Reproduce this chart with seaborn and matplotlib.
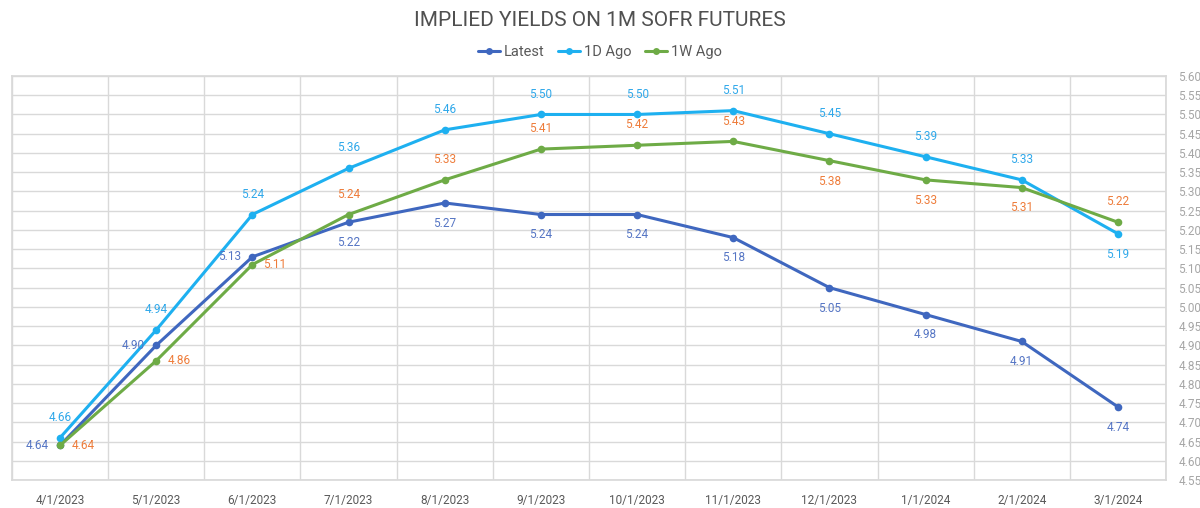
import matplotlib
matplotlib.use('Agg')
import matplotlib.pyplot as plt
from matplotlib.lines import Line2D
import seaborn as sns
import pandas as pd
import numpy as np

dates = ['4/1/2023', '5/1/2023', '6/1/2023', '7/1/2023', '8/1/2023', '9/1/2023',
         '10/1/2023', '11/1/2023', '12/1/2023', '1/1/2024', '2/1/2024', '3/1/2024']
latest = [4.64, 4.90, 5.13, 5.22, 5.27, 5.24, 5.24, 5.18, 5.05, 4.98, 4.91, 4.74]
d1_ago = [4.66, 4.94, 5.24, 5.36, 5.46, 5.50, 5.50, 5.51, 5.45, 5.39, 5.33, 5.19]
w1_ago = [4.64, 4.86, 5.11, 5.24, 5.33, 5.41, 5.42, 5.43, 5.38, 5.33, 5.31, 5.22]
series_names = ['Latest', '1D Ago', '1W Ago']

# where each data label sits relative to its point
latest_pos = ['left', 'left', 'left'] + ['below'] * 9
d1_pos = ['above'] * 11 + ['below']
w1_pos = ['right', 'right', 'right'] + ['above'] * 5 + ['below'] * 3 + ['above']

line_colors = {'Latest': '#3F67BF', '1D Ago': '#1EB0F0', '1W Ago': '#6EAB46'}
label_colors = {'Latest': '#5575C4', '1D Ago': '#2FA8EA', '1W Ago': '#EE7C3A'}

df = pd.DataFrame({
    'date': dates * 3,
    'value': latest + d1_ago + w1_ago,
    'series': [s for s in series_names for _ in dates],
})

sns.set_theme(style='white')
plt.rcParams['font.family'] = ['Roboto', 'DejaVu Sans']

fig = plt.figure(figsize=(12, 5.08), dpi=100)
ax = fig.add_axes([12 / 1200, 1 - 480 / 508, 1154 / 1200, 404 / 508])

sns.lineplot(data=df, x='date', y='value', hue='series', palette=line_colors,
             marker='o', markersize=5.5, markeredgewidth=0, linewidth=2.2,
             sort=False, legend=False, ax=ax)

ax.set_xlim(-0.5, len(dates) - 0.5)
ax.set_ylim(4.55, 5.60)
ax.set_yticks(np.round(np.arange(4.55, 5.601, 0.05), 2))
ax.set_yticklabels([f'{v:.2f}' for v in np.arange(4.55, 5.601, 0.05)])
ax.yaxis.tick_right()
ax.set_xticks(range(len(dates)))
ax.set_xticklabels(dates)
ax.set_xticks(np.arange(-0.5, len(dates), 1), minor=True)
ax.tick_params(axis='y', length=0, pad=9, labelsize=8.5, labelcolor='#A6A6A6')
ax.tick_params(axis='x', which='both', length=0, pad=10, labelsize=8.5, labelcolor='#595959')
ax.grid(axis='y', which='major', color='#D9D9D9', linewidth=1)
ax.grid(axis='x', which='minor', color='#D9D9D9', linewidth=1)
ax.grid(axis='x', which='major', visible=False)
ax.set_axisbelow(True)
for sp in ax.spines.values():
    sp.set_color('#D9D9D9')
ax.set_xlabel('')
ax.set_ylabel('')

offsets = {'above': (0, 10, 'center', 'bottom'), 'below': (0, -10, 'center', 'top'),
           'left': (-8, 0, 'right', 'center'), 'right': (8, 0, 'left', 'center')}
for name, vals, pos in [('Latest', latest, latest_pos), ('1D Ago', d1_ago, d1_pos),
                        ('1W Ago', w1_ago, w1_pos)]:
    for i, (v, p) in enumerate(zip(vals, pos)):
        dx, dy, ha, va = offsets[p]
        ax.annotate(f'{v:.2f}', (i, v), xytext=(dx, dy), textcoords='offset points',
                    ha=ha, va=va, fontsize=8.5, color=label_colors[name])

fig.text(0.5, 1 - 21 / 508, 'IMPLIED YIELDS ON 1M SOFR FUTURES', ha='center', va='center',
         fontsize=15, color='#505050')

handles = [Line2D([0], [0], color=line_colors[s], marker='o', markersize=5,
                  markeredgewidth=0, linewidth=2.2) for s in series_names]
fig.legend(handles, series_names, loc='center', bbox_to_anchor=(0.5, 1 - 52 / 508),
           ncol=3, frameon=False, fontsize=10.5, handlelength=1.5, handletextpad=0.3,
           columnspacing=0.9, labelcolor='#595959')

fig.savefig('out.png', dpi=100)
